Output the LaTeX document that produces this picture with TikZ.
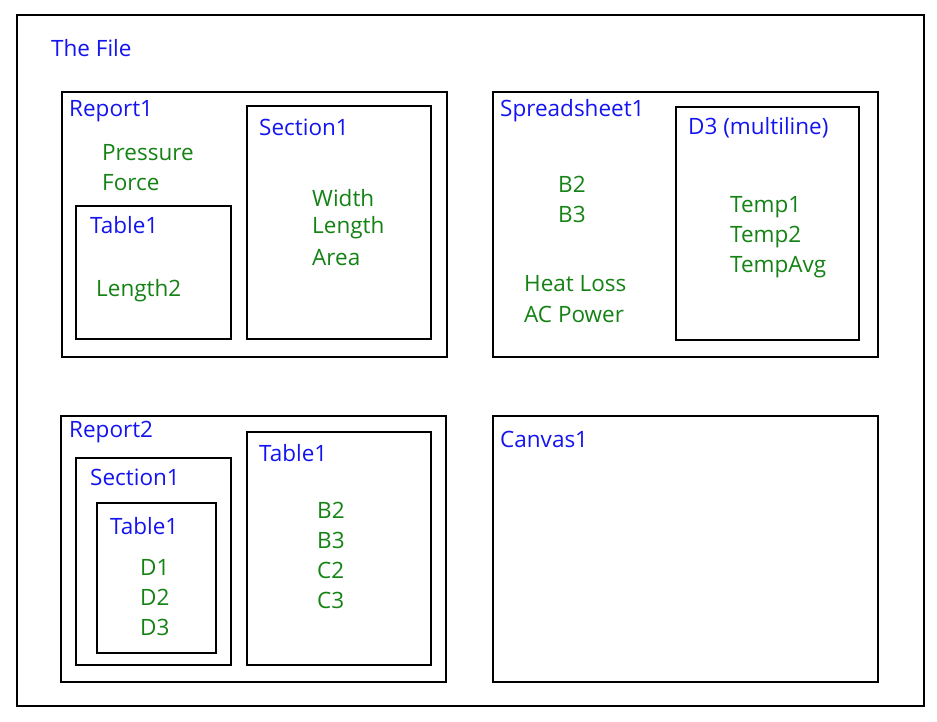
\documentclass[tikz,border=0pt]{standalone}
\usepackage{fontspec}
\setmainfont{Open Sans}
\definecolor{lblue}{RGB}{20,20,240}
\definecolor{lgreen}{RGB}{20,130,20}
\begin{document}
\begin{tikzpicture}[x=1pt,y=-1pt,
  box/.style={draw=black,line width=2.6pt},
  bl/.style={anchor=west,inner sep=0pt,text=lblue,font=\fontsize{22.5}{26}\selectfont},
  gr/.style={anchor=west,inner sep=0pt,text=lgreen,font=\fontsize{22.5}{26}\selectfont}]
\useasboundingbox[fill=white] (0,0) rectangle (937,721);
\draw[box] (17,15) rectangle (924,706);
\draw[box] (62,92) rectangle (447,357);
\draw[box] (247,106) rectangle (431,339);
\draw[box] (76,206) rectangle (231,339);
\draw[box] (493,92) rectangle (878,357);
\draw[box] (676,107) rectangle (859,340);
\draw[box] (61,416) rectangle (446,682);
\draw[box] (76,458) rectangle (231,665);
\draw[box] (97,503) rectangle (216,653);
\draw[box] (247,432) rectangle (431,665);
\draw[box] (493,416) rectangle (878,682);
\node[bl] (tf) at (51,48) {The File};
\node[bl] (r1) at (69,111) {Report1};
\node[gr] (p) at (102,153) {Pressure};
\node[gr] (f) at (102,183) {Force};
\node[bl] (t1) at (90,225) {Table1};
\node[gr] (l2) at (96,291) {Length2};
\node[bl] (s1) at (259,127) {Section1};
\node[gr] (w) at (312,198) {Width};
\node[gr] (l) at (312,228) {Length};
\node[gr] (a) at (312,258) {Area};
\node[bl] (sp) at (500,111) {Spreadsheet1};
\node[gr] (b2) at (558,184) {B2};
\node[gr] (b3) at (558,214) {B3};
\node[gr] (hl) at (524,284) {Heat Loss};
\node[gr] (ac) at (524,314) {AC Power};
\node[bl] (d3) at (688,128) {D3 (multiline)};
\node[gr] (tp1) at (730,207) {Temp1};
\node[gr] (tp2) at (730,237) {Temp2};
\node[gr] (tpa) at (730,267) {TempAvg};
\node[bl] (r2) at (69,432) {Report2};
\node[bl] (s2) at (90,477) {Section1};
\node[bl] (t2) at (110,526) {Table1};
\node[gr] (dd1) at (140,567) {D1};
\node[gr] (dd2) at (140,597) {D2};
\node[gr] (dd3) at (140,627) {D3};
\node[bl] (t3) at (259,453) {Table1};
\node[gr] (c1) at (317,510) {B2};
\node[gr] (c2) at (317,540) {B3};
\node[gr] (c3) at (317,570) {C2};
\node[gr] (c4) at (317,600) {C3};
\node[bl] (cv) at (500,439) {Canvas1};
\end{tikzpicture}
\end{document}
